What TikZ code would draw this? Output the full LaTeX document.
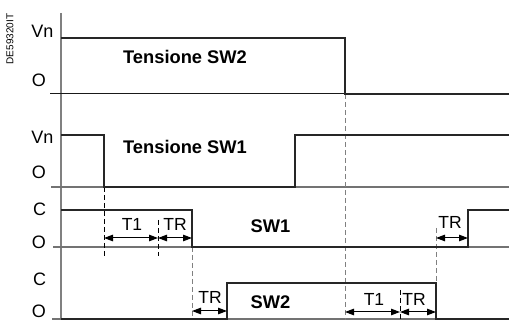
\documentclass[tikz,border=0pt]{standalone}
\usepackage{fontspec}
\setmainfont{Liberation Sans}
\usetikzlibrary{arrows.meta}
\begin{document}
\begin{tikzpicture}[x=1pt,y=-1pt,
  lbl/.style={inner sep=0pt,font=\fontsize{18}{18}\selectfont},
  ttl/.style={inner sep=0pt,font=\fontsize{18.3}{18.3}\selectfont\bfseries},
  tlbl/.style={inner sep=0pt,font=\fontsize{17.5}{17.5}\selectfont},
  sig/.style={line width=2pt,draw=black!85,line join=miter},
  base/.style={line width=1.1pt,draw=black!55},
  axisln/.style={line width=1.5pt,draw=black!50},
  dsh/.style={line width=0.9pt,dash pattern=on 5pt off 3pt},
  gdsh/.style={line width=0.9pt,draw=black!50,dash pattern=on 5pt off 3pt},
  dim/.style={line width=1pt,{Triangle[length=9pt,width=6.5pt]}-{Triangle[length=9pt,width=6.5pt]}}]
\useasboundingbox (0,0) rectangle (509,320);
% code
\node[rotate=90,inner sep=0pt,font=\fontsize{10}{10}\selectfont] (code) at (10,39) {DE59320IT};
% axis
\coordinate (axT) at (61,13);
\coordinate (axB) at (61,320);
\draw[axisln] (axT) -- (axB);
% baselines
\coordinate (b1s) at (50,94);  \coordinate (b1e) at (509,94);
\coordinate (b2s) at (51,187); \coordinate (b2e) at (509,187);
\coordinate (b3s) at (53,247); \coordinate (b3e) at (509,247);
\coordinate (b4s) at (52,319); \coordinate (b4e) at (509,319);
\draw[line width=1pt,draw=black!90] (b1s) -- (b1e);
\draw[base] (b2s) -- (b2e);
\draw[base] (b3s) -- (b3e);
\draw[base] (b4s) -- (b4e);
% dashed guides
\coordinate (d1a) at (104,187); \coordinate (d1b) at (104,256);
\coordinate (d2a) at (158,220); \coordinate (d2b) at (158,256);
\coordinate (d3a) at (192,247); \coordinate (d3b) at (192,320);
\coordinate (d4a) at (345,94);  \coordinate (d4b) at (345,320);
\coordinate (d5a) at (436,228); \coordinate (d5b) at (436,283);
\coordinate (d6a) at (400,290); \coordinate (d6b) at (400,320);
\draw[dsh] (d1a) -- (d1b);
\draw[dsh] (d2a) -- (d2b);
\draw[gdsh] (d3a) -- (d3b);
\draw[gdsh] (d4a) -- (d4b);
\draw[gdsh] (d5a) -- (d5b);
\draw[dsh] (d6a) -- (d6b);
% signals
\draw[sig] (61,38) -- (345,38) -- (345,94) -- (509,94);
\draw[sig] (61,135) -- (104,135) -- (104,187) -- (295,187) -- (295,135) -- (509,135);
\draw[sig] (61,210) -- (192,210) -- (192,247) -- (468,247) -- (468,210) -- (509,210);
\draw[sig] (61,319) -- (227,319) -- (227,283) -- (436,283) -- (436,319) -- (509,319);
% level labels
\node[lbl] (vn1) at (42.5,31) {Vn};
\node[lbl] (o1) at (39,80.5) {O};
\node[lbl] (vn2) at (42.5,137.5) {Vn};
\node[lbl] (o2) at (39,172.5) {O};
\node[lbl] (c3) at (39.5,209) {C};
\node[lbl] (o3) at (39,242) {O};
\node[lbl] (c4) at (39.5,279) {C};
\node[lbl] (o4) at (39,311) {O};
% titles
\node[ttl] (t1) at (185,57) {Tensione SW2};
\node[ttl] (t2) at (185,147) {Tensione SW1};
\node[ttl] (t3) at (270.5,226) {SW1};
\node[ttl] (t4) at (270.5,302) {SW2};
% dimension arrows
\coordinate (a1) at (104,238); \coordinate (a2) at (158,238); \coordinate (a3) at (192,238);
\draw[dim] (a1) -- (a2);
\draw[dim] (a2) -- (a3);
\node[tlbl] (lt1) at (132,224) {T1};
\node[tlbl] (ltr1) at (175,224) {TR};
\coordinate (a4) at (436,238); \coordinate (a5) at (468,238);
\draw[dim] (a4) -- (a5);
\node[tlbl] (ltr2) at (450,222) {TR};
\coordinate (a6) at (192,311); \coordinate (a7) at (227,311);
\draw[dim] (a6) -- (a7);
\node[tlbl] (ltr3) at (210,297) {TR};
\coordinate (a8) at (345,312); \coordinate (a9) at (400,312); \coordinate (a10) at (436,312);
\draw[dim] (a8) -- (a9);
\draw[dim] (a9) -- (a10);
\node[tlbl] (lt2) at (374,299) {T1};
\node[tlbl] (ltr4) at (414,299) {TR};
\end{tikzpicture}
\end{document}
